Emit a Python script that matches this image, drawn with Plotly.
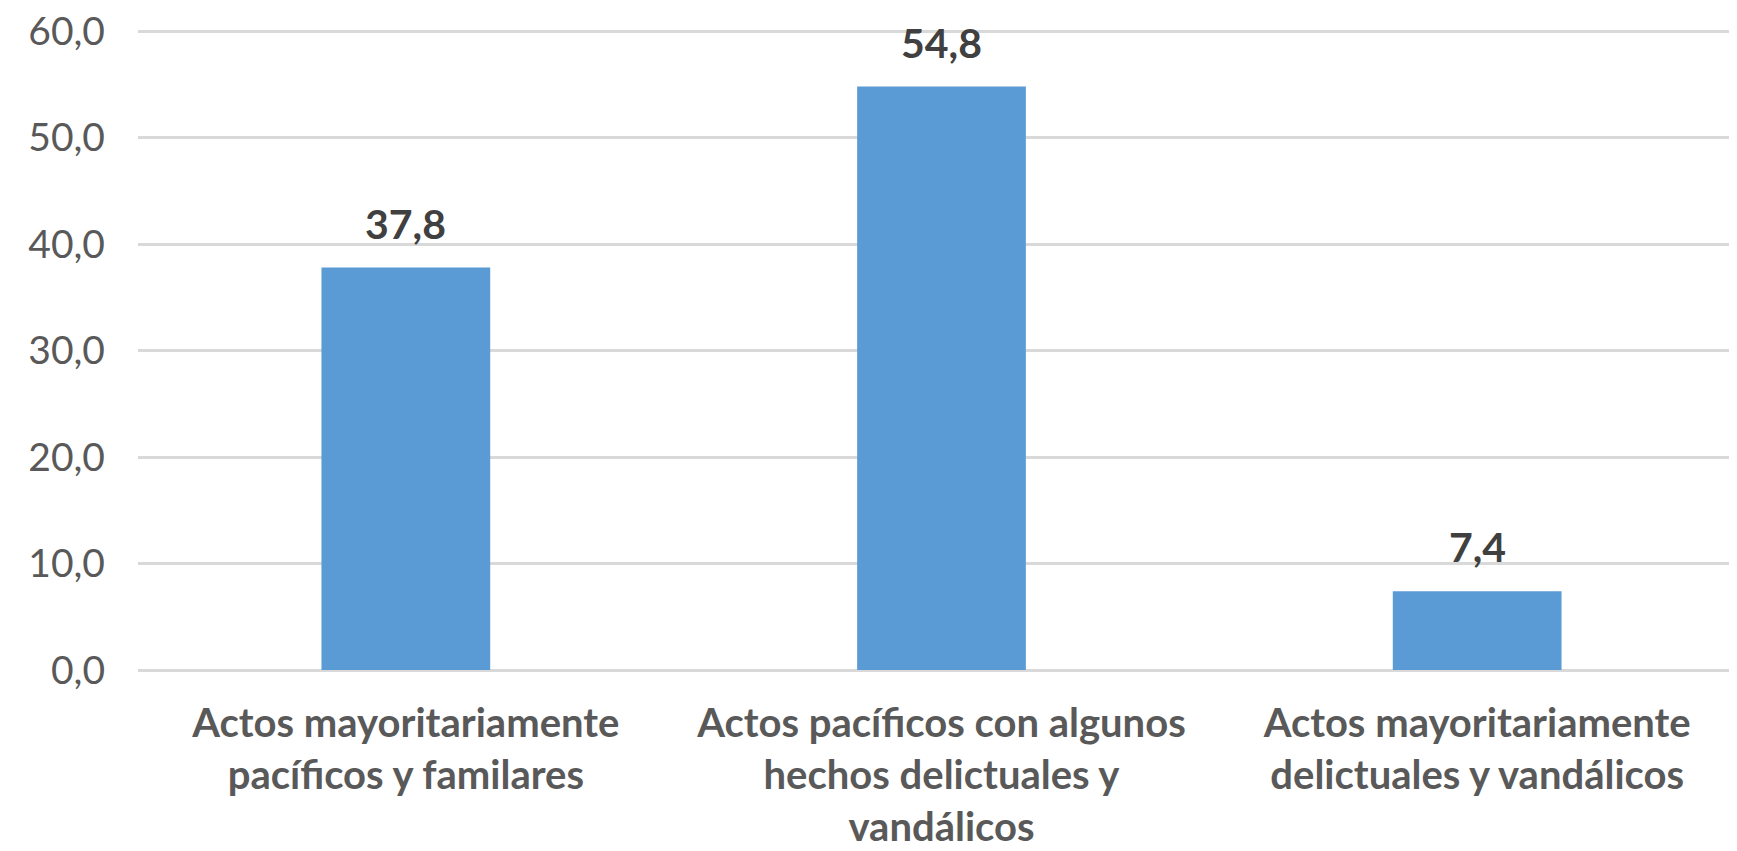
import plotly.graph_objects as go

categories = [
    "Actos mayoritariamente<br>pacíficos y familares",
    "Actos pacíficos con algunos<br>hechos delictuales y<br>vandálicos",
    "Actos mayoritariamente<br>delictuales y vandálicos",
]
values = [37.8, 54.8, 7.4]
y_ticks = [0, 10, 20, 30, 40, 50, 60]

_BAR = "#5B9BD5"
_GRID = "#D9D9D9"
_AXIS_TXT = "#595959"
_LBL_TXT = "#404040"
_FONT = "Lato, Open Sans, sans-serif"

fig = go.Figure(go.Bar(
    x=list(range(len(categories))), y=values,
    marker=dict(color=_BAR, line=dict(width=0)),
    width=0.315,
    hoverinfo="skip",
))

# data labels above each bar
for i, v in enumerate(values):
    fig.add_annotation(
        x=i, y=v, text=f"<b>{v:.1f}</b>".replace(".", ","),
        showarrow=False, yanchor="bottom", yshift=18,
        font=dict(family=_FONT, size=41, color=_LBL_TXT),
    )

# page body has an 8px margin, so margins are trimmed by 8
fig.update_layout(
    width=1737, height=851,
    paper_bgcolor="white", plot_bgcolor="white",
    margin=dict(l=130, r=0, t=20, b=189),
    separators=",.",
    showlegend=False,
    font=dict(family=_FONT, color=_AXIS_TXT),
)
fig.update_xaxes(
    tickmode="array", tickvals=list(range(len(categories))),
    ticktext=[f"<b>{c}</b>" for c in categories],
    range=[-0.5, 2.5],
    showgrid=False, zeroline=False, showline=False, ticks="",
    tickfont=dict(family=_FONT, size=40, color=_AXIS_TXT),
    ticklabelstandoff=26,
    ticklabeloverflow="allow",
)
fig.update_yaxes(
    range=[0, 60.3], tickvals=y_ticks, tickformat=".1f",
    showgrid=True, gridcolor=_GRID, gridwidth=3,
    zeroline=True, zerolinecolor=_GRID, zerolinewidth=3,
    showline=False, ticks="",
    tickfont=dict(family=_FONT, size=39, color=_AXIS_TXT),
    ticklabelstandoff=32,
    ticklabeloverflow="allow",
)

fig.write_html("out.html")
